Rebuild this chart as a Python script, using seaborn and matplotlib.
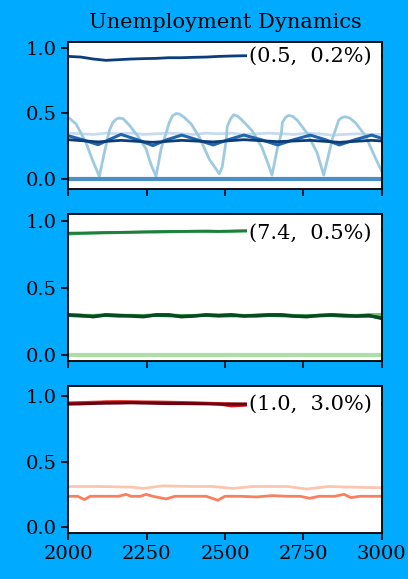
import numpy as np
import pandas as pd
import matplotlib
matplotlib.use("Agg")
import matplotlib.pyplot as plt
import seaborn as sns

# ---------------- data ----------------
# Panel 1 (Blues)
t_saw = [2000, 2025, 2056, 2078, 2099, 2115, 2131, 2142, 2152, 2162, 2175, 2195, 2221, 2248,
         2264, 2280, 2296, 2312, 2322, 2332, 2344, 2355, 2370, 2392, 2418, 2450, 2482, 2491,
         2504, 2507, 2518, 2528, 2540, 2554, 2586, 2618, 2640, 2650, 2666, 2680, 2683, 2693,
         2703, 2716, 2730, 2762, 2794, 2815, 2842, 2863, 2873, 2884, 2898, 2916, 2948, 2980,
         3000]
u_saw = [0.47, 0.42, 0.28, 0.14, 0.02, 0.20, 0.37, 0.43, 0.455, 0.465, 0.46, 0.41, 0.33, 0.23,
         0.11, 0.02, 0.23, 0.35, 0.43, 0.48, 0.50, 0.495, 0.47, 0.42, 0.32, 0.15, 0.04, 0.09,
         0.30, 0.40, 0.46, 0.49, 0.48, 0.45, 0.37, 0.24, 0.10, 0.03, 0.22, 0.35, 0.43, 0.47,
         0.485, 0.478, 0.45, 0.35, 0.20, 0.03, 0.30, 0.45, 0.468, 0.475, 0.465, 0.43, 0.33, 0.16,
         0.06]

t_wave = [2000, 2045, 2095, 2130, 2168, 2220, 2270, 2315, 2362, 2410, 2462, 2510, 2560, 2615,
          2668, 2720, 2772, 2820, 2865, 2915, 2968, 3000]
u_wave = [0.33, 0.30, 0.262, 0.30, 0.34, 0.30, 0.255, 0.30, 0.335, 0.30, 0.26, 0.30, 0.335, 0.30,
          0.26, 0.30, 0.335, 0.30, 0.26, 0.30, 0.335, 0.31]

t_navy = [2000, 2095, 2168, 2270, 2362, 2462, 2560, 2668, 2772, 2865, 2968, 3000]
u_navy = [0.30, 0.283, 0.295, 0.28, 0.295, 0.283, 0.30, 0.285, 0.295, 0.28, 0.295, 0.29]

t_grid = [2000, 2040, 2080, 2120, 2160, 2200, 2240, 2280, 2320, 2360, 2400, 2440, 2480,
          2520, 2560, 2600, 2640, 2680, 2720, 2760, 2800, 2840, 2880, 2920, 2960, 3000]
u_pale = [0.35, 0.345, 0.34, 0.35, 0.345, 0.35, 0.34, 0.345, 0.35, 0.345, 0.34, 0.35, 0.345,
          0.35, 0.34, 0.345, 0.35, 0.345, 0.34, 0.35, 0.345, 0.335, 0.34, 0.345, 0.34, 0.34]
u_top_b = [0.935, 0.93, 0.915, 0.905, 0.91, 0.915, 0.918, 0.92, 0.925, 0.925, 0.928, 0.93,
           0.935, 0.938, 0.94, 0.94, 0.94, 0.94, 0.94, 0.94, 0.94, 0.94, 0.94, 0.94, 0.94, 0.94]
t_zero = [2000, 3000]
u_zero = [0.0, 0.0]

# Panel 2 (Greens)
u_top_g1 = [0.912, 0.913, 0.915, 0.917, 0.918, 0.92, 0.922, 0.924, 0.925, 0.925, 0.927, 0.928,
            0.926, 0.928, 0.93, 0.93, 0.932, 0.932, 0.932, 0.933, 0.933, 0.933, 0.934, 0.934,
            0.934, 0.935]
u_top_g2 = [0.905, 0.91, 0.912, 0.914, 0.916, 0.918, 0.92, 0.92, 0.922, 0.924, 0.925, 0.925,
            0.924, 0.926, 0.928, 0.928, 0.93, 0.93, 0.93, 0.93, 0.931, 0.931, 0.932, 0.932,
            0.932, 0.933]
u_mid_g1 = [0.30, 0.295, 0.285, 0.30, 0.295, 0.29, 0.285, 0.30, 0.30, 0.285, 0.29, 0.30, 0.295,
            0.30, 0.29, 0.295, 0.30, 0.30, 0.29, 0.285, 0.295, 0.30, 0.295, 0.29, 0.295, 0.272]
u_mid_g2 = [0.295, 0.29, 0.29, 0.295, 0.29, 0.293, 0.29, 0.295, 0.293, 0.29, 0.292, 0.295, 0.29,
            0.293, 0.292, 0.29, 0.295, 0.293, 0.29, 0.29, 0.292, 0.295, 0.29, 0.29, 0.29, 0.28]
u_mid_g3 = [0.302, 0.298, 0.296, 0.302, 0.298, 0.297, 0.295, 0.302, 0.302, 0.295, 0.296, 0.302,
            0.298, 0.302, 0.296, 0.298, 0.302, 0.302, 0.296, 0.294, 0.298, 0.302, 0.298, 0.296,
            0.302, 0.303]

# Panel 3 (Reds)
u_top_r1 = [0.94, 0.942, 0.945, 0.947, 0.948, 0.95, 0.948, 0.946, 0.944, 0.944, 0.943, 0.942,
            0.94, 0.94, 0.94, 0.94, 0.94, 0.94, 0.94, 0.94, 0.94, 0.94, 0.94, 0.94, 0.94, 0.94]
u_top_r2 = [0.945, 0.948, 0.95, 0.955, 0.955, 0.956, 0.955, 0.955, 0.953, 0.95, 0.948, 0.945,
            0.94, 0.925, 0.93, 0.94, 0.94, 0.94, 0.94, 0.94, 0.94, 0.94, 0.94, 0.94, 0.94, 0.94]
u_top_r3 = [0.95, 0.952, 0.955, 0.958, 0.96, 0.958, 0.956, 0.955, 0.955, 0.953, 0.95, 0.948,
            0.945, 0.942, 0.94, 0.94, 0.94, 0.94, 0.94, 0.94, 0.94, 0.94, 0.94, 0.94, 0.94, 0.94]
t_r_light = [2000, 2100, 2200, 2240, 2300, 2400, 2460, 2525, 2590, 2700, 2760, 2830, 2900, 3000]
u_r_light = [0.31, 0.31, 0.305, 0.295, 0.315, 0.31, 0.31, 0.295, 0.31, 0.31, 0.29, 0.31, 0.305,
             0.30]
t_r_mid = [2000, 2030, 2051, 2070, 2120, 2160, 2184, 2200, 2230, 2248, 2270, 2312, 2340, 2400,
           2440, 2477, 2500, 2550, 2600, 2650, 2700, 2740, 2770, 2800, 2850, 2880, 2902, 2930,
           3000]
u_r_mid = [0.235, 0.235, 0.21, 0.235, 0.235, 0.235, 0.25, 0.235, 0.235, 0.25, 0.235, 0.215,
           0.235, 0.235, 0.235, 0.205, 0.235, 0.235, 0.23, 0.24, 0.235, 0.235, 0.22, 0.235,
           0.235, 0.25, 0.225, 0.235, 0.235]

labels = ["(0.5,  0.2%) ", "(7.4,  0.5%) ", "(1.0,  3.0%) "]
label_y = [0.935, 0.915, 0.94]
title = "Unemployment Dynamics"
xticks = [2000, 2250, 2500, 2750, 3000]
yticks = [0.0, 0.5, 1.0]

# ---------------- plot ----------------
sns.set_theme(style="ticks")
plt.rcParams["font.family"] = ["DejaVu Serif"]
plt.rcParams["text.color"] = "black"
plt.rcParams["axes.labelcolor"] = "black"
plt.rcParams["axes.edgecolor"] = "black"
plt.rcParams["xtick.color"] = "black"
plt.rcParams["ytick.color"] = "black"

bg = "#00aaff"
fig, axes = plt.subplots(3, 1, figsize=(4.08, 5.79), dpi=100, sharex=True, facecolor=bg)
fig.subplots_adjust(left=0.1674, right=0.9355, top=0.9275, bottom=0.0789, hspace=0.171)

panels = [
    [(t_grid, u_pale, "#c6dbef", 2.0), (t_saw, u_saw, "#9ecae1", 2.0),
     (t_zero, u_zero, "#4a8fc6", 3.0), (t_wave, u_wave, "#2166ac", 2.2),
     (t_navy, u_navy, "#0b3d7a", 2.0), (t_grid, u_top_b, "#0b3d7a", 2.0)],
    [(t_zero, u_zero, "#addea6", 3.0), (t_grid, u_mid_g3, "#74c476", 2.0),
     (t_grid, u_top_g2, "#41ab5d", 2.0), (t_grid, u_top_g1, "#1e7f3c", 2.0),
     (t_grid, u_mid_g2, "#006d2c", 2.2), (t_grid, u_mid_g1, "#0a4a22", 2.4)],
    [(t_r_light, u_r_light, "#fcc5b0", 2.0), (t_r_mid, u_r_mid, "#f9805f", 2.0),
     (t_grid, u_top_r3, "#ef3b2c", 2.0), (t_grid, u_top_r2, "#cb181d", 2.0),
     (t_grid, u_top_r1, "#6b0010", 2.2)],
]
ylims = [(-0.076, 1.045), (-0.048, 1.055), (-0.048, 1.076)]

for ax, series, lab, ly, yl in zip(axes, panels, labels, label_y, ylims):
    ax.set_facecolor("white")
    for t, u, c, lw in series:
        sns.lineplot(x=t, y=u, ax=ax, color=c, linewidth=lw)
    ax.text(2990, ly, lab, ha="right", va="center", fontsize=15,
            bbox=dict(facecolor="white", edgecolor="none", pad=1.5), zorder=5)
    ax.set_xlim(2000, 3000)
    ax.set_ylim(*yl)
    ax.set_yticks(yticks)
    ax.set_yticklabels(["0.0", "0.5", "1.0"])
    ax.set_xticks(xticks)
    ax.tick_params(axis="both", labelsize=14, length=5, width=1.2, direction="out")
    for s in ax.spines.values():
        s.set_visible(True)
        s.set_linewidth(1.3)
        s.set_color("black")

axes[0].set_title(title, fontsize=15, pad=10)
axes[2].set_xticklabels([str(v) for v in xticks])

fig.savefig("out.png", dpi=100, facecolor=bg)
